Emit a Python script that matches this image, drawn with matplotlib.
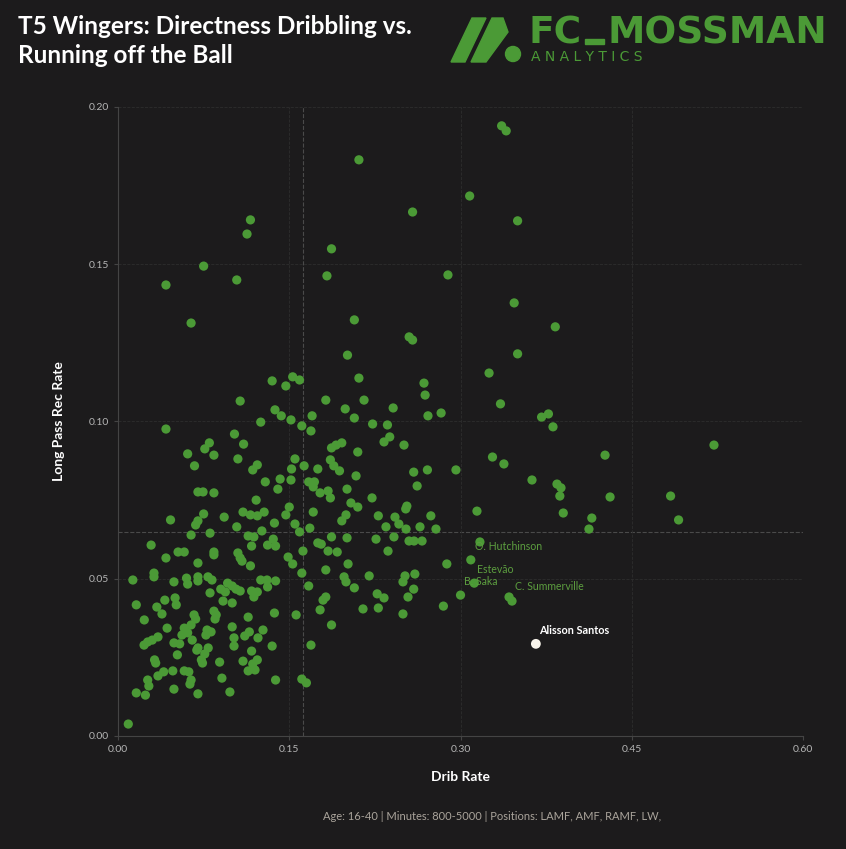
import numpy as np
import matplotlib.pyplot as plt
from matplotlib.patches import Polygon, Circle, Rectangle

# Datos: Drib Rate (x) y Long Pass Rec Rate (y)
drib_rate = [
    0.336, 0.340, 0.211, 0.308, 0.258, 0.350, 0.116, 0.113, 0.187, 0.075,
    0.042, 0.104, 0.183, 0.289, 0.347, 0.064, 0.207, 0.383, 0.255, 0.258,
    0.350, 0.201, 0.325,
    0.135, 0.147, 0.153, 0.159, 0.211, 0.268, 0.269, 0.107, 0.182, 0.2155,
    0.335, 0.199, 0.241, 0.1375, 0.143, 0.170, 0.207, 0.2715, 0.283, 0.371,
    0.377, 0.1515, 0.125, 0.223, 0.236, 0.161, 0.381, 0.042, 0.169, 0.102,
    0.238, 0.080, 0.110, 0.233, 0.196, 0.2505, 0.522, 0.191, 0.076, 0.187,
    0.210, 0.061, 0.084, 0.4266, 0.328, 0.105, 0.155, 0.186, 0.338, 0.122,
    0.067, 0.163, 0.189, 0.118, 0.152, 0.175, 0.194, 0.259, 0.271, 0.296,
    0.2085, 0.142, 0.1515, 0.3626, 0.129, 0.167, 0.172, 0.3845, 0.262, 0.171,
    0.388, 0.140, 0.2006, 0.184, 0.070, 0.0745, 0.084, 0.177, 0.387, 0.484,
    0.431, 0.186, 0.2225, 0.121, 0.204, 0.150, 0.210, 0.253, 0.252, 0.3144,
    0.1095, 0.128, 0.171, 0.390, 0.075, 0.116, 0.147, 0.1997, 0.093, 0.122,
    0.228, 0.2426, 0.274, 0.415, 0.046, 0.491, 0.070, 0.196, 0.137, 0.068,
    0.155, 0.246, 0.104, 0.2347, 0.2645, 0.168, 0.2523, 0.2785, 0.4125, 0.126,
    0.0806, 0.159, 0.064, 0.114, 0.119, 0.187, 0.2417, 0.2006, 0.136, 0.226,
    0.2549, 0.2593, 0.2663, 0.175, 0.178, 0.029, 0.131, 0.138, 0.117,
    0.162, 0.184, 0.192, 0.2365, 0.0526, 0.058, 0.084, 0.084, 0.105, 0.107,
    0.1086, 0.042, 0.149, 0.153, 0.070, 0.116, 0.2015, 0.288, 0.161, 0.182,
    0.0315, 0.0315, 0.013, 0.049, 0.060, 0.061, 0.070, 0.070, 0.0788, 0.0823,
    0.096, 0.100, 0.1034, 0.107, 0.090, 0.094, 0.0806, 0.125, 0.1305, 0.138,
    0.131, 0.117, 0.122, 0.119, 0.198, 0.1997, 0.220, 0.2514, 0.2496, 0.260,
    0.167, 0.207, 0.259, 0.227, 0.233, 0.182, 0.1796, 0.254, 0.300, 0.3451,
    0.050, 0.051, 0.041, 0.092, 0.100, 0.016, 0.285, 0.034, 0.177, 0.2146,
    0.228, 0.0385, 0.0666, 0.068, 0.084, 0.086, 0.085, 0.114, 0.137, 0.156,
    0.2496, 0.023, 0.064, 0.187, 0.043, 0.058, 0.061, 0.056, 0.078, 0.077,
    0.0815, 0.100, 0.1016, 0.127, 0.111, 0.115, 0.1226, 0.035, 0.030, 0.026,
    0.0228, 0.049, 0.054, 0.065, 0.1016, 0.135, 0.169, 0.070, 0.069, 0.079,
    0.076, 0.052, 0.117, 0.032, 0.033, 0.073, 0.074, 0.089, 0.1095, 0.122,
    0.118, 0.120, 0.114, 0.035, 0.040, 0.048, 0.058, 0.062, 0.026, 0.027,
    0.064, 0.063, 0.091, 0.138, 0.161, 0.165, 0.016, 0.024, 0.049, 0.070,
    0.098, 0.009,
]
long_pass_rec = [
    0.1940, 0.1924, 0.1832, 0.1717, 0.1666, 0.1638, 0.1641, 0.1596, 0.1549, 0.1494,
    0.1434, 0.1450, 0.1463, 0.1466, 0.1377, 0.1313, 0.1323, 0.1301, 0.1269, 0.1259,
    0.1215, 0.1211, 0.1154,
    0.1129, 0.1113, 0.1142, 0.1132, 0.1138, 0.1122, 0.1084, 0.1065, 0.1068, 0.1068,
    0.1056, 0.1040, 0.1043, 0.1037, 0.1018, 0.1018, 0.1011, 0.1018, 0.1027, 0.1014,
    0.1024, 0.1005, 0.0998, 0.0992, 0.0989, 0.0986, 0.0983, 0.0976, 0.0970, 0.0960,
    0.0951, 0.0932, 0.0928, 0.0935, 0.0932, 0.0925, 0.0925, 0.0925, 0.0913, 0.0916,
    0.0903, 0.0897, 0.0893, 0.0893, 0.0887, 0.0881, 0.0881, 0.0878, 0.0865, 0.0862,
    0.0859, 0.0859, 0.0859, 0.0846, 0.0849, 0.0849, 0.0843, 0.0839, 0.0846, 0.0846,
    0.0827, 0.0817, 0.0814, 0.0814, 0.0808, 0.0808, 0.0808, 0.0801, 0.0795, 0.0792,
    0.0789, 0.0785, 0.0785, 0.0779, 0.0776, 0.0776, 0.0773, 0.0773, 0.0763, 0.0763,
    0.0760, 0.0757, 0.0757, 0.0750, 0.0741, 0.0728, 0.0728, 0.0731, 0.0722, 0.0715,
    0.0712, 0.0712, 0.0712, 0.0709, 0.0706, 0.0703, 0.0703, 0.0703, 0.0696, 0.0700,
    0.0700, 0.0696, 0.0700, 0.0693, 0.0687, 0.0687, 0.0684, 0.0684, 0.0677, 0.0671,
    0.0674, 0.0674, 0.0665, 0.0665, 0.0665, 0.0661, 0.0658, 0.0658, 0.0658, 0.0652,
    0.0645, 0.0649, 0.0639, 0.0636, 0.0633, 0.0633, 0.0633, 0.0630, 0.0626, 0.0626,
    0.0620, 0.0620, 0.0620, 0.0614, 0.0610, 0.0607, 0.0607, 0.0604, 0.0604,
    0.0588, 0.0588, 0.0585, 0.0588, 0.0585, 0.0585, 0.0585, 0.0576, 0.0582, 0.0566,
    0.0556, 0.0566, 0.0569, 0.0547, 0.0550, 0.0541, 0.0547, 0.0547, 0.0518, 0.0528,
    0.0518, 0.0506, 0.0496, 0.0490, 0.0502, 0.0483, 0.0506, 0.0493, 0.0506, 0.0496,
    0.0486, 0.0477, 0.0467, 0.0461, 0.0467, 0.0458, 0.0455, 0.0496, 0.0496, 0.0493,
    0.0474, 0.0461, 0.0458, 0.0442, 0.0506, 0.0490, 0.0509, 0.0509, 0.0490, 0.0515,
    0.0477, 0.0471, 0.0467, 0.0452, 0.0439, 0.0442, 0.0432, 0.0442, 0.0448, 0.0429,
    0.0439, 0.0417, 0.0432, 0.0429, 0.0423, 0.0417, 0.0413, 0.0410, 0.0401, 0.0404,
    0.0407, 0.0388, 0.0385, 0.0372, 0.0397, 0.0385, 0.0372, 0.0378, 0.0391, 0.0385,
    0.0388, 0.0369, 0.0353, 0.0353, 0.0343, 0.0343, 0.0328, 0.0321, 0.0337, 0.0321,
    0.0331, 0.0347, 0.0312, 0.0337, 0.0318, 0.0331, 0.0312, 0.0315, 0.0305, 0.0299,
    0.0289, 0.0296, 0.0293, 0.0305, 0.0286, 0.0286, 0.0289, 0.0280, 0.0273, 0.0280,
    0.0261, 0.0258, 0.0270, 0.0242, 0.0232, 0.0242, 0.0232, 0.0235, 0.0238, 0.0242,
    0.0229, 0.0210, 0.0207, 0.0191, 0.0204, 0.0207, 0.0207, 0.0204, 0.0178, 0.0159,
    0.0178, 0.0165, 0.0184, 0.0178, 0.0181, 0.0169, 0.0137, 0.0130, 0.0149, 0.0134,
    0.0140, 0.0038,
]

# Jugadores destacados
label_names = ["O. Hutchinson", "Estevão", "B. Saka", "C. Summerville"]
label_x = [0.317, 0.309, 0.312, 0.3425]
label_y = [0.0617, 0.0560, 0.0486, 0.0442]
label_offsets = [(-3.6, -3.6), (4.3, -7.2), (-7.2, 1.4), (4.3, 7.2)]

focus_name = "Alisson Santos"
focus_x = 0.366
focus_y = 0.0293

mean_x = 0.162
mean_y = 0.0649

x_ticks = [0.0, 0.15, 0.30, 0.45, 0.60]
y_ticks = [0.0, 0.05, 0.10, 0.15, 0.20]

bg = "#1c1b1c"
green = "#4b9a36"
font = "Lato"

fig = plt.figure(figsize=(8.46, 8.49), dpi=100, facecolor=bg)
ax = fig.add_axes([0.1395, 0.1331, 0.8097, 0.7409], facecolor=bg)

ax.scatter(drib_rate + label_x, long_pass_rec + label_y, s=44, color=green,
           edgecolors="none", zorder=3)
ax.scatter([focus_x], [focus_y], s=50, color="#f7f3ea", edgecolors="none", zorder=4)

for name, x, y, off in zip(label_names, label_x, label_y, label_offsets):
    ax.annotate(name, (x, y), xytext=off, textcoords="offset points",
                ha="left", va="center", fontsize=7.6, color="#5c9e3f",
                family=font, zorder=5)
ax.annotate(focus_name, (focus_x, focus_y), xytext=(2.2, 9.4),
            textcoords="offset points", ha="left", va="center", fontsize=7.8,
            color="white", fontweight="bold", family=font, zorder=5)

ax.axvline(mean_x, color="#4a4a4a", ls="--", lw=0.8, zorder=1)
ax.axhline(mean_y, color="#4a4a4a", ls="--", lw=0.8, zorder=1)

ax.set_xlim(0, 0.60)
ax.set_ylim(0, 0.20)
ax.set_xticks(x_ticks)
ax.set_yticks(y_ticks)
ax.xaxis.set_major_formatter(lambda v, p: f"{v:.2f}")
ax.yaxis.set_major_formatter(lambda v, p: f"{v:.2f}")
ax.grid(True, color="#2d2d2d", ls="--", lw=0.6, zorder=0)
ax.tick_params(colors="#444444", labelcolor="#b5b5b5", labelsize=7.5,
               length=3, width=0.8)
for lbl in ax.get_xticklabels() + ax.get_yticklabels():
    lbl.set_family(font)
for side in ["top", "right"]:
    ax.spines[side].set_visible(False)
for side in ["left", "bottom"]:
    ax.spines[side].set_color("#444444")
    ax.spines[side].set_linewidth(0.8)

ax.set_xlabel("Drib Rate", color="white", fontsize=10, fontweight="bold",
              family=font, labelpad=12)
ax.set_ylabel("Long Pass Rec Rate", color="white", fontsize=10,
              fontweight="bold", family=font, labelpad=17)

# Titulo
fig.text(18 / 846, 1 - 41 / 849, "T5 Wingers: Directness Dribbling vs.\nRunning off the Ball",
         ha="left", va="center", color="white", fontsize=17.5, fontweight="bold",
         family=font, linespacing=1.3)

# Logo
fig.patches.append(Polygon([(451 / 846, 1 - 62 / 849), (472 / 846, 1 - 18 / 849),
                            (486 / 846, 1 - 18 / 849), (465 / 846, 1 - 62 / 849)],
                           closed=True, transform=fig.transFigure, color=green))
fig.patches.append(Polygon([(471 / 846, 1 - 62 / 849), (492 / 846, 1 - 18 / 849),
                            (503 / 846, 1 - 18 / 849), (508 / 846, 1 - 32 / 849),
                            (486 / 846, 1 - 62 / 849)],
                           closed=True, transform=fig.transFigure, color=green))
fig.patches.append(Circle((513 / 846, 1 - 54 / 849), 7.5 / 846,
                          transform=fig.transFigure, color=green))
fig.text(529 / 846, 1 - 44 / 849, "FC", ha="left", va="baseline",
         color=green, fontsize=27, fontweight="heavy", family="DejaVu Sans")
fig.patches.append(Rectangle((585 / 846, 1 - 44 / 849), 19 / 846, 5 / 849,
                             transform=fig.transFigure, color=green))
fig.text(827 / 846, 1 - 44 / 849, "MOSSMAN", ha="right", va="baseline",
         color=green, fontsize=27, fontweight="heavy", family="DejaVu Sans")
fig.text(531 / 846, 1 - 57 / 849, "A N A L Y T I C S", ha="left", va="center",
         color=green, fontsize=10, family="DejaVu Sans")

# Pie
fig.text(492 / 846, 1 - 817 / 849,
         "Age: 16-40 | Minutes: 800-5000 | Positions: LAMF, AMF, RAMF, LW,",
         ha="center", va="center", color="#aaa49b", fontsize=8, family=font)

fig.savefig("out.png", dpi=100, facecolor=bg)
